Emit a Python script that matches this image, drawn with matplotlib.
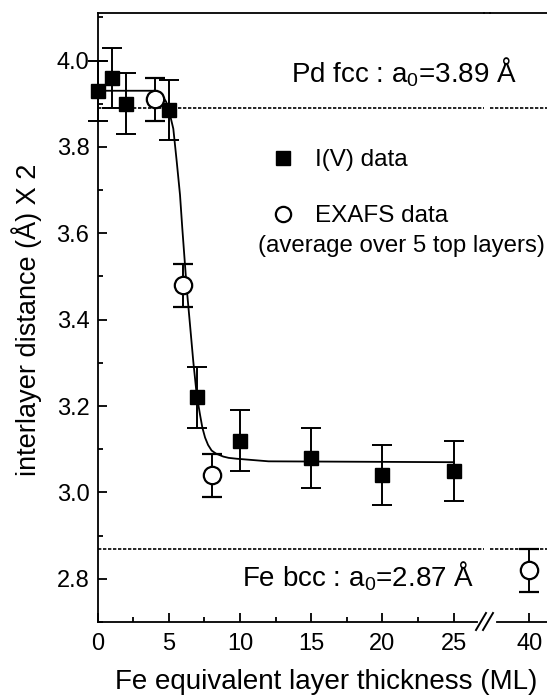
import matplotlib
matplotlib.use('Agg')
import matplotlib.pyplot as plt
from matplotlib.lines import Line2D
from matplotlib.ticker import MultipleLocator

plt.rcParams['font.family'] = ['Liberation Sans', 'DejaVu Sans']
plt.rcParams['mathtext.fontset'] = 'custom'
plt.rcParams['mathtext.rm'] = 'Liberation Sans'

# --- data ---
iv_x = [0, 1, 2, 5, 7, 10, 15, 20, 25]
iv_y = [3.93, 3.96, 3.90, 3.885, 3.22, 3.12, 3.08, 3.04, 3.05]
iv_err = [0.07, 0.07, 0.07, 0.07, 0.07, 0.07, 0.07, 0.07, 0.07]

exafs_x = [4, 6, 8]
exafs_y = [3.91, 3.48, 3.04]
exafs_err = [0.05, 0.05, 0.05]

exafs_thick_x = [40]
exafs_thick_y = [2.82]
exafs_thick_err = [0.05]

fit_x = [0, 2, 4.0, 4.5, 4.8, 5.0, 5.31, 5.55, 5.78, 5.94, 6.13, 6.25, 6.48,
         6.71, 6.95, 7.18, 7.35, 7.54, 7.75, 8.0, 8.3, 8.82, 9.2, 9.76, 12, 25]
fit_y = [3.93, 3.93, 3.93, 3.92, 3.905, 3.885, 3.842, 3.766, 3.689, 3.612,
         3.527, 3.473, 3.389, 3.304, 3.227, 3.181, 3.150, 3.127, 3.110, 3.097,
         3.090, 3.083, 3.080, 3.078, 3.072, 3.07]

pd_a0 = 3.89
fe_a0 = 2.87

# --- figure layout (pixel boxes) ---
W, H = 547, 695
fig = plt.figure(figsize=(W / 100, H / 100), dpi=100)


def box(x0, y0, x1, y1):
    return [x0 / W, 1 - y1 / H, (x1 - x0) / W, (y1 - y0) / H]


ax = fig.add_axes(box(97.7, 13, 483.6, 622))
ax2 = fig.add_axes(box(490, 13, 547, 622), sharey=ax)
ax2.patch.set_visible(False)

lw = 1.3
for a in (ax, ax2):
    for s in a.spines.values():
        s.set_linewidth(lw)
    a.axhline(pd_a0, color='black', lw=1.2, ls=(0, (2, 1)), zorder=1)
    a.axhline(fe_a0, color='black', lw=1.2, ls=(0, (2, 1)), zorder=1)

ax.spines['right'].set_visible(False)
ax2.spines['left'].set_visible(False)
ax2.spines['right'].set_visible(False)

ax.set_xlim(0, 27.1)
ax2.set_xlim(37.24, 41.24)
ax.set_ylim(2.70, 4.11)
ax.spines['bottom'].set_bounds(0, 26.65)
ax2.spines['bottom'].set_bounds(37.7, 41.24)

# fitted curve
ax.plot(fit_x, fit_y, color='black', lw=1.3, zorder=2)


def no_clip(container):
    for art in container.get_children():
        art.set_clip_on(False)


# I(V) data
no_clip(ax.errorbar(iv_x, iv_y, yerr=iv_err, fmt='s', color='black', ms=9.5,
                    elinewidth=1.4, capsize=7, capthick=1.4, zorder=4))

# EXAFS data
err_kw = dict(fmt='o', mfc='white', mec='black', mew=1.6, ms=12.5,
              ecolor='black', elinewidth=1.4, capsize=7, capthick=1.4, zorder=5)
no_clip(ax.errorbar(exafs_x, exafs_y, yerr=exafs_err, **err_kw))
no_clip(ax2.errorbar(exafs_thick_x, exafs_thick_y, yerr=exafs_thick_err, **err_kw))

# ticks
ax.xaxis.set_major_locator(MultipleLocator(5))
ax.xaxis.set_minor_locator(MultipleLocator(2.5))
ax.yaxis.set_minor_locator(MultipleLocator(0.1))
ax.set_yticks([2.8, 3.0, 3.2, 3.4, 3.6, 3.8, 4.0])
ax.set_yticklabels(['2.8', '3.0', '3.2', '3.4', '3.6', '3.8', '4.0'])
ax2.set_xticks([40])
ax2.set_xticks([], minor=True)

for a in (ax, ax2):
    a.tick_params(which='major', direction='in', length=6.5, width=lw,
                  labelsize=17, pad=6, top=False, right=False)
    a.tick_params(which='minor', direction='in', length=3.5, width=lw,
                  top=False, right=False)
    a.tick_params(axis='x', which='major', pad=8)
ax2.tick_params(axis='y', which='both', left=False, labelleft=False)

# continuous top frame across the break
fig.add_artist(Line2D([483.6 / W, 490 / W], [1 - 13 / H, 1 - 13 / H],
                      color='black', lw=lw, transform=fig.transFigure))
# break marks on the x axis
for dx in (0, 7):
    fig.add_artist(Line2D([(476 + dx) / W, (486 + dx) / W],
                          [1 - 630 / H, 1 - 613 / H],
                          color='black', lw=1.4, transform=fig.transFigure))

# labels
fig.text(326 / W, 1 - 689 / H, 'Fe equivalent layer thickness (ML)',
         ha='center', va='baseline', fontsize=20)
fig.text(36 / W, 1 - 320 / H, 'interlayer distance (Å) X 2',
         ha='center', va='baseline', rotation=90, rotation_mode='anchor',
         fontsize=19.5)

# reference lattice constants
ax.text(13.55, 3.95, 'Pd fcc : a$_\\mathregular{0}$=3.89 Å',
        ha='left', va='baseline', fontsize=20)
ax.text(10.15, 2.784, 'Fe bcc : a$_\\mathregular{0}$=2.87 Å',
        ha='left', va='baseline', fontsize=20)

# legend
handles = [
    Line2D([], [], ls='none', marker='s', color='black', ms=9.5),
    Line2D([], [], ls='none', marker='o', mfc='white', mec='black',
           mew=1.6, ms=11),
]
ax.legend(handles, ['I(V) data', 'EXAFS data'], loc='upper left',
          bbox_to_anchor=(270 / W, 1 - 149 / H),
          bbox_transform=fig.transFigure, frameon=False, fontsize=17.5,
          handlelength=1.1, handletextpad=0.75, labelspacing=1.4,
          borderpad=0, borderaxespad=0)
fig.text(258 / W, 1 - 252 / H, '(average over 5 top layers)',
         ha='left', va='baseline', fontsize=17.3)

fig.savefig('out.png', dpi=100)
